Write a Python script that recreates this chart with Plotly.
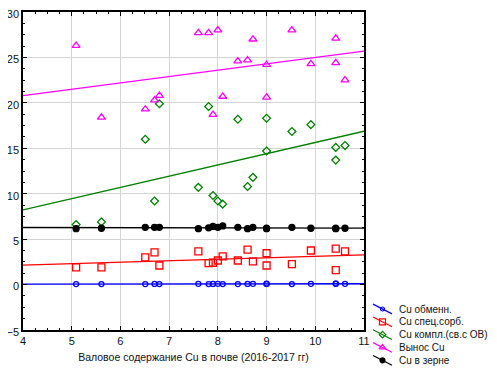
import numpy as np
import plotly.graph_objects as go

# Soil Cu (x) for each sample
x_soil = [5.09, 5.61, 6.51, 6.70, 6.80, 7.60, 7.81, 7.90, 8.00, 8.10,
          8.41, 8.61, 8.72, 9.00, 9.00, 9.52, 9.91, 10.42, 10.42, 10.61]

cu_exch = [0.05, 0.06, 0.05, 0.07, 0.06, 0.08, 0.06, 0.07, 0.08, 0.06,
           0.05, 0.07, 0.08, 0.09, 0.07, 0.06, 0.08, 0.10, 0.09, 0.08]
cu_spec = [1.9, 1.9, 3.0, 3.55, 2.1, 3.65, 2.35, 2.4, 2.65, 3.1,
           2.65, 3.85, 2.55, 3.45, 2.1, 2.25, 3.75, 3.95, 1.6, 3.65]
cu_compl = [6.6, 6.9, 16.0, 9.2, 19.9, 10.7, 19.6, 9.8, 9.2, 8.85,
            18.2, 10.8, 11.8, 18.3, 14.7, 16.85, 17.6, 15.1, 13.7, 15.3]
cu_removal = [26.3, 18.4, 19.3, 20.3, 20.8, 27.7, 27.7, 18.7, 28.0, 20.7,
              24.6, 24.7, 27.0, 24.2, 20.6, 28.0, 24.3, 27.1, 24.4, 22.5]
cu_grain = [6.15, 6.2, 6.3, 6.3, 6.3, 6.15, 6.25, 6.4, 6.3, 6.45,
            6.3, 6.15, 6.3, 6.2, 6.15, 6.3, 6.2, 6.15, 6.2, 6.2]

series_names = ["Cu обменн.", "Cu спец.сорб.", "Cu компл.(св.с ОВ)", "Вынос Cu", "Cu в зерне"]
series_values = [cu_exch, cu_spec, cu_compl, cu_removal, cu_grain]
colors = ["#0000ff", "#ff0000", "#008000", "#ff00ff", "#000000"]
symbols = ["circle-open", "square-open", "diamond-open", "triangle-up-open", "circle"]
sizes = [5, 7, 6, 7, 6]

x_axis_title = "Валовое содержание Cu в почве (2016-2017 гг)"
x_range = [4, 11]
y_range = [-5, 30]

FONT = "Liberation Sans, Arial"

# page has an 8px body margin; figure is sized to fit the 497x374 window
OFF = 8
W, H = 497 - OFF, 374 - OFF


def px_x(p):
    return (p - OFF) / W


def px_y(p):
    return 1 - (p - OFF) / H


fig = go.Figure()
xs = np.array(x_soil)
x_line = np.array(x_range, dtype=float)
for i, (name, vals, c, s, sz) in enumerate(zip(series_names, series_values, colors, symbols, sizes)):
    ys = np.array(vals)
    k, b = np.polyfit(xs, ys, 1)
    fig.add_trace(go.Scatter(x=x_line, y=k * x_line + b, mode="lines",
                             line=dict(color=c, width=1.3), showlegend=False,
                             hoverinfo="skip"))
    fig.add_trace(go.Scatter(x=x_soil, y=vals, mode="markers",
                             marker=dict(symbol=s, color=c, size=sz,
                                         line=dict(color=c, width=1.3)),
                             showlegend=False))
    # custom legend entry on an auxiliary axis (diagonal sample line + marker)
    fig.add_trace(go.Scatter(x=[1, 20], y=[i - 0.38, i + 0.38], mode="lines",
                             line=dict(color=c, width=1.2), showlegend=False,
                             xaxis="x2", yaxis="y2", hoverinfo="skip"))
    fig.add_trace(go.Scatter(x=[10.5], y=[i], mode="markers",
                             marker=dict(symbol=s, color=c, size=sz - 1,
                                         line=dict(color=c, width=1.2)),
                             showlegend=False, xaxis="x2", yaxis="y2",
                             hoverinfo="skip", cliponaxis=False))
    fig.add_annotation(x=25, y=i, xref="x2", yref="y2", text=name, showarrow=False,
                       xanchor="left", yanchor="middle",
                       font=dict(family=FONT, size=10, color="#111"))

axis_common = dict(showline=True, linecolor="black", linewidth=1.5, mirror="ticks",
                   ticks="inside", ticklen=4, tickcolor="black", tickwidth=1,
                   showgrid=True, gridcolor="#d4d4d4", gridwidth=1, zeroline=False,
                   automargin=False, ticklabeloverflow="allow",
                   tickfont=dict(family=FONT, size=11, color="#111"))

fig.update_layout(
    xaxis=dict(domain=[px_x(23), px_x(364)], range=x_range, dtick=1, tick0=4,
               minor=dict(ticks="inside", ticklen=2, dtick=0.25, tickcolor="black", showgrid=False),
               title=dict(text=x_axis_title, font=dict(family=FONT, size=10.5, color="#111"), standoff=8),
               anchor="y", **axis_common),
    yaxis=dict(domain=[px_y(330), px_y(12)], range=y_range, dtick=5, tick0=0,
               minor=dict(ticks="inside", ticklen=2, dtick=1.25, tickcolor="black", showgrid=False),
               ticklabelshift=2,
               anchor="x", **axis_common),
    xaxis2=dict(domain=[px_x(372), 1], range=[0, 125], visible=False, anchor="y2", fixedrange=True),
    yaxis2=dict(domain=[px_y(366.7), px_y(302.6)], range=[4.5, -0.5], visible=False,
                anchor="x2", fixedrange=True),
    width=W, height=H,
    margin=dict(l=0, r=0, t=0, b=0, pad=0, autoexpand=False),
    paper_bgcolor="white", plot_bgcolor="rgba(0,0,0,0)",
    font=dict(family=FONT, size=10.5, color="#111"),
    showlegend=False,
)

fig.write_html("out.html")
